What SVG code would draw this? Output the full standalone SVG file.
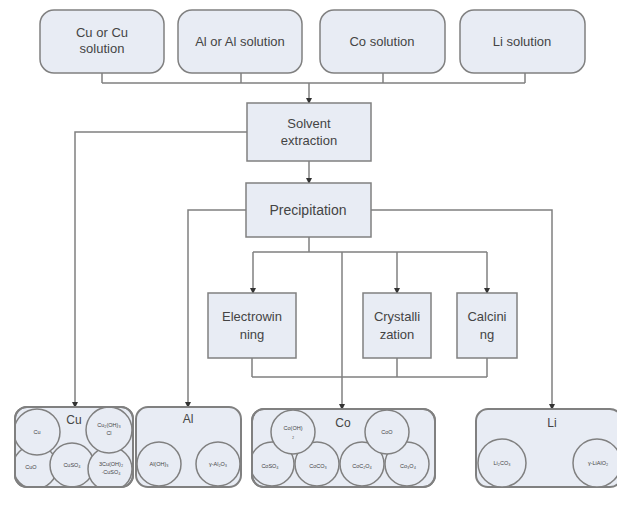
<svg xmlns="http://www.w3.org/2000/svg" width="617" height="525" viewBox="0 0 617 525">
<defs>
<marker id="ah" markerWidth="6" markerHeight="6" refX="5" refY="3" orient="auto" markerUnits="userSpaceOnUse">
<path d="M0,0 L6,3 L0,6 z" fill="#333"/>
</marker>
<clipPath id="cuclip"><rect x="15" y="407" width="118" height="80" rx="12"/></clipPath>
<clipPath id="coclip"><rect x="252" y="409" width="183" height="78" rx="12"/></clipPath>
<style>
.src{fill:#e8ecf4;stroke:#808080;stroke-width:1.5}
.proc{fill:#e8ecf4;stroke:#808080;stroke-width:1.5}
.grp{fill:#e8ecf4;stroke:#808080;stroke-width:2}
.cir{fill:#e8ecf4;stroke:#808080;stroke-width:1.5}
.t{font-family:"Liberation Sans",Arial,sans-serif;fill:#444;text-anchor:middle}
.tb{font-size:13px}
.tg{font-size:12px}
.ts{font-size:5.5px}
.ln{fill:none;stroke:#808080;stroke-width:1.5}
.ar{fill:none;stroke:#808080;stroke-width:1.5;marker-end:url(#ah)}
</style>
</defs>
<rect width="617" height="525" fill="#fff"/>

<g id="connectors">
<path class="ln" d="M102,73 V83 M241,73 V83 M383,73 V83 M525,73 V83 M102,83 H525"/>
<path class="ar" d="M309,83 V103"/>
<path class="ar" d="M309,161 V183"/>
<path class="ar" d="M247,132 H75 V407"/>
<path class="ar" d="M246,210 H188 V407"/>
<path class="ar" d="M371,210 H552 V409"/>
<path class="ln" d="M309,237 V252 M253,252 H487"/>
<path class="ar" d="M253,252 V293"/>
<path class="ar" d="M397,252 V293"/>
<path class="ar" d="M487,252 V293"/>
<path class="ar" d="M342,252 V409"/>
<path class="ln" d="M252,358 V377 M397,358 V377 M487,358 V377 M252,377 H487"/>
</g>

<g id="cu-solution"><rect class="src" x="40" y="10" width="124" height="63" rx="14"/><text class="t tb" x="102" y="37">Cu or Cu</text><text class="t tb" x="102" y="53">solution</text></g>
<g id="al-solution"><rect class="src" x="178" y="10" width="124" height="63" rx="14"/><text class="t tb" x="240" y="46">Al or Al solution</text></g>
<g id="co-solution"><rect class="src" x="320" y="10" width="125" height="63" rx="14"/><text class="t tb" x="382" y="46">Co solution</text></g>
<g id="li-solution"><rect class="src" x="460" y="10" width="125" height="63" rx="14"/><text class="t tb" x="522" y="46">Li solution</text></g>

<g id="solvent-extraction"><rect class="proc" x="247" y="103" width="124" height="58"/><text class="t tb" x="309" y="128">Solvent</text><text class="t tb" x="309" y="145">extraction</text></g>
<g id="precipitation"><rect class="proc" x="246" y="183" width="125" height="54"/><text class="t" font-size="14" x="308" y="215">Precipitation</text></g>
<g id="electrowinning"><rect class="proc" x="208" y="293" width="88" height="65"/><text class="t tb" x="252" y="321">Electrowin</text><text class="t tb" x="252" y="339">ning</text></g>
<g id="crystallization"><rect class="proc" x="363" y="293" width="68" height="65"/><text class="t tb" x="397" y="321">Crystalli</text><text class="t tb" x="397" y="339">zation</text></g>
<g id="calcining"><rect class="proc" x="457" y="293" width="60" height="65"/><text class="t tb" x="487" y="321">Calcini</text><text class="t tb" x="487" y="339">ng</text></g>

<g id="cu-products">
<rect class="grp" x="15" y="407" width="118" height="80" rx="12"/>
<text class="t tg" x="74" y="424">Cu</text>
<g clip-path="url(#cuclip)">
<circle class="cir" cx="35" cy="467" r="22"/>
<circle class="cir" cx="37" cy="432" r="23"/>
<circle class="cir" cx="72" cy="465" r="22"/>
<circle class="cir" cx="110" cy="469" r="22"/>
<circle class="cir" cx="109" cy="430" r="23"/>
</g>
<rect x="15" y="407" width="118" height="80" rx="12" fill="none" stroke="#808080" stroke-width="2"/>
<text class="t ts" x="37" y="434">Cu</text>
<text class="t ts" x="109" y="427">Cu₂(OH)₃</text><text class="t ts" x="109" y="435">Cl</text>
<text class="t ts" x="31" y="469">CuO</text>
<text class="t ts" x="72" y="467">CuSO₄</text>
<text class="t ts" x="111" y="466">3Cu(OH)₂</text><text class="t ts" x="111" y="474">·CuSO₄</text>
</g>

<g id="al-products">
<rect class="grp" x="136" y="407" width="105" height="80" rx="12"/>
<text class="t tg" x="188" y="423">Al</text>
<circle class="cir" cx="159" cy="464" r="22"/>
<circle class="cir" cx="218" cy="464" r="22"/>
<text class="t ts" x="159" y="466">Al(OH)₃</text>
<text class="t ts" x="218" y="466">γ-Al₂O₃</text>
</g>

<g id="co-products">
<rect class="grp" x="252" y="409" width="183" height="78" rx="12"/>
<text class="t tg" x="343" y="427">Co</text>
<g clip-path="url(#coclip)">
<circle class="cir" cx="272" cy="464" r="22"/>
<circle class="cir" cx="317" cy="464" r="22"/>
<circle class="cir" cx="362" cy="464" r="22"/>
<circle class="cir" cx="407" cy="464" r="22"/>
<circle class="cir" cx="293" cy="432" r="22"/>
<circle class="cir" cx="387" cy="432" r="22"/>
</g>
<rect x="252" y="409" width="183" height="78" rx="12" fill="none" stroke="#808080" stroke-width="2"/>
<text class="t ts" x="293" y="430">Co(OH)</text><text class="t ts" x="293" y="438">₂</text>
<text class="t ts" x="387" y="434">CoO</text>
<text class="t ts" x="270" y="468">CoSO₄</text>
<text class="t ts" x="318" y="468">CoCO₃</text>
<text class="t ts" x="362" y="468">CoC₂O₄</text>
<text class="t ts" x="408" y="468">Co₃O₄</text>
</g>

<g id="li-products">
<rect class="grp" x="476" y="409" width="146" height="78" rx="12"/>
<text class="t tg" x="552" y="427">Li</text>
<circle class="cir" cx="502" cy="463" r="24"/>
<circle class="cir" cx="597" cy="463" r="24"/>
<text class="t ts" x="502" y="465">Li₂CO₃</text>
<text class="t ts" x="598" y="465">γ-LiAlO₂</text>
</g>
</svg>
